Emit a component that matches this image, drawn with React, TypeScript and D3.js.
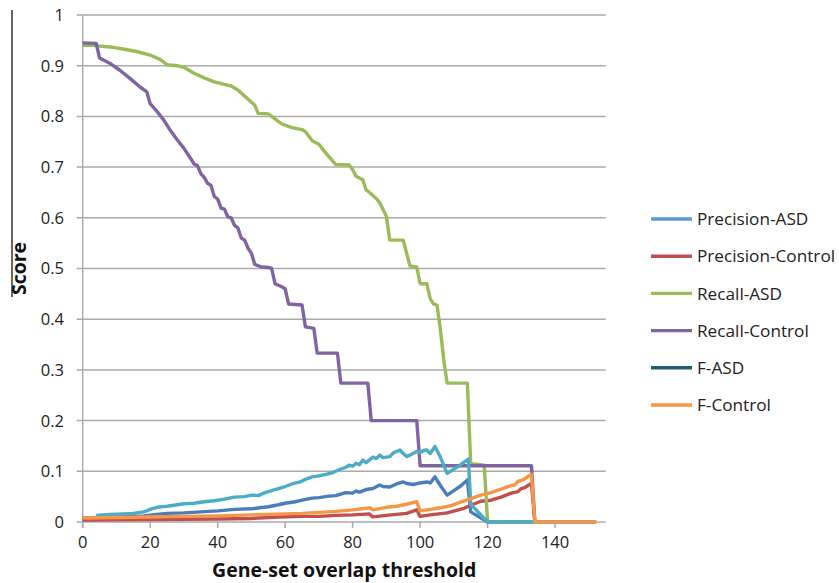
import React from 'react';
import * as d3 from 'd3';

type P = [number, number];

const seriesNames = ['Precision-ASD', 'Precision-Control', 'Recall-ASD', 'Recall-Control', 'F-ASD', 'F-Control'];

const precisionASD: P[] = [
  [0, 0.008], [10, 0.010], [18, 0.012], [22, 0.015], [25, 0.017], [30, 0.018], [35, 0.020], [40, 0.022],
  [45, 0.025], [50, 0.026], [52.5, 0.028], [55, 0.030], [58, 0.034], [60, 0.037], [63, 0.040], [65, 0.043],
  [68, 0.047], [70, 0.048], [73, 0.051], [75, 0.052], [78, 0.058], [80, 0.057], [81, 0.061], [82, 0.059],
  [84, 0.064], [86, 0.066], [88, 0.073], [89, 0.070], [91, 0.069], [93, 0.075], [95, 0.079], [96, 0.076],
  [98, 0.074], [100, 0.077], [102, 0.079], [103, 0.077], [104.4, 0.089], [106, 0.072], [108, 0.053],
  [110, 0.062], [112, 0.071], [114, 0.083], [115, 0.020], [120, 0], [152, 0],
];

const precisionControl: P[] = [
  [0, 0.004], [20, 0.005], [40, 0.006], [50, 0.007], [58, 0.010], [65, 0.011], [70, 0.011], [75, 0.013],
  [80, 0.014], [85, 0.016], [86, 0.010], [90, 0.013], [96, 0.017], [99, 0.024], [100, 0.011], [103, 0.014],
  [108, 0.018], [113, 0.027], [115, 0.033], [118, 0.041], [121, 0.043], [124, 0.049], [127, 0.057],
  [129, 0.060], [130, 0.066], [131, 0.068], [133, 0.076], [134, 0], [152, 0],
];

const recallASD: P[] = [
  [0, 0.940], [3, 0.940], [8, 0.937], [12, 0.933], [16, 0.928], [20, 0.921], [23, 0.912], [25, 0.902],
  [28, 0.900], [30, 0.897], [33, 0.885], [36, 0.876], [39, 0.868], [42, 0.863], [44, 0.860], [46, 0.852],
  [48, 0.840], [50, 0.828], [51, 0.822], [52, 0.806], [55, 0.805], [57, 0.795], [59, 0.785], [62, 0.778],
  [65, 0.774], [66, 0.770], [68, 0.752], [70, 0.745], [72, 0.728], [75, 0.705], [79, 0.704], [80, 0.695],
  [81, 0.682], [83, 0.675], [84, 0.655], [85, 0.650], [87, 0.638], [88, 0.630], [90, 0.603], [91, 0.556],
  [95, 0.556], [96, 0.530], [97, 0.505], [99, 0.503], [100, 0.470], [102, 0.470], [103, 0.440], [104, 0.430],
  [105, 0.428], [106, 0.380], [107, 0.320], [108, 0.274], [114, 0.274], [115, 0.115], [119, 0.112],
  [120, 0], [152, 0],
];

const recallControl: P[] = [
  [0, 0.945], [4, 0.944], [5, 0.915], [8, 0.905], [11, 0.891], [14, 0.875], [17, 0.858], [18.5, 0.851],
  [19, 0.848], [20, 0.825], [22, 0.810], [24, 0.793], [26, 0.772], [28, 0.754], [30, 0.737], [32, 0.717],
  [33, 0.706], [34, 0.703], [35, 0.687], [36, 0.680], [37, 0.668], [38, 0.664], [39, 0.642], [40, 0.637],
  [41, 0.619], [42, 0.617], [43, 0.602], [44, 0.600], [45, 0.585], [46, 0.580], [47, 0.560], [48, 0.556],
  [49, 0.540], [50, 0.530], [51, 0.508], [53, 0.503], [55, 0.502], [56, 0.500], [57, 0.470], [59, 0.464],
  [60, 0.460], [61, 0.430], [65, 0.428], [66, 0.385], [68.5, 0.382], [69.5, 0.333], [75.5, 0.333],
  [76.5, 0.274], [84.5, 0.274], [85.5, 0.200], [99, 0.200], [100, 0.111], [133, 0.111], [134, 0], [152, 0],
];

const fASD: P[] = [
  [4, 0.013], [8, 0.015], [12, 0.016], [15, 0.017], [18, 0.020], [19, 0.022], [20, 0.025], [22, 0.029],
  [25, 0.031], [28, 0.034], [30, 0.036], [33, 0.037], [36, 0.040], [39, 0.042], [42, 0.045], [45, 0.049],
  [48, 0.050], [50, 0.053], [52, 0.052], [54, 0.058], [57, 0.064], [60, 0.070], [62, 0.075], [64.4, 0.079],
  [66, 0.084], [68, 0.089], [70, 0.091], [72, 0.094], [74, 0.097], [76, 0.103], [78, 0.108], [79, 0.112],
  [80, 0.110], [81, 0.116], [82, 0.113], [83, 0.122], [84, 0.117], [86, 0.128], [87, 0.125], [88, 0.132],
  [89, 0.127], [91, 0.129], [92, 0.136], [94, 0.142], [95, 0.135], [96, 0.129], [97, 0.132], [99, 0.139],
  [100, 0.137], [101, 0.141], [102, 0.142], [103, 0.135], [104.4, 0.149], [106, 0.128], [108, 0.096],
  [110, 0.104], [112, 0.113], [114.3, 0.124], [115, 0.035], [120, 0], [152, 0],
];

const fControl: P[] = [
  [0, 0.008], [10, 0.009], [20, 0.010], [30, 0.011], [40, 0.012], [50, 0.014], [55, 0.015], [60, 0.016],
  [65, 0.017], [70, 0.019], [75, 0.021], [80, 0.024], [84, 0.027], [85, 0.028], [86, 0.024], [90, 0.029],
  [93, 0.031], [96, 0.035], [99, 0.040], [100, 0.022], [103, 0.025], [106, 0.028], [109, 0.032],
  [112, 0.039], [115, 0.046], [118, 0.053], [121, 0.058], [124, 0.065], [127, 0.072], [128, 0.073],
  [129, 0.080], [130, 0.082], [131, 0.085], [132, 0.090], [133, 0.094], [134, 0], [152.3, 0],
];

const seriesData: P[][] = [precisionASD, precisionControl, recallASD, recallControl, fASD, fControl];
const lineColors = ['#4a7ebb', '#c0504d', '#9bbb59', '#8064a2', '#4bacc6', '#f79646'];
const legendColors = ['#5b9bd5', '#c0504d', '#9bbb59', '#8064a2', '#215d6e', '#f79646'];

const yTicks = [0, 0.1, 0.2, 0.3, 0.4, 0.5, 0.6, 0.7, 0.8, 0.9, 1];
const yTickLabels = ['0', '0.1', '0.2', '0.3', '0.4', '0.5', '0.6', '0.7', '0.8', '0.9', '1'];
const xTicks = [0, 20, 40, 60, 80, 100, 120, 140];

const FONT = '"Open Sans", "DejaVu Sans", sans-serif';

export default function App() {
  const x = d3.scaleLinear().domain([0, 155]).range([82.7, 605.7]);
  const y = d3.scaleLinear().domain([0, 1]).range([522, 15]);
  const line = d3.line<P>().x(d => x(d[0])).y(d => y(d[1]));
  const [x0, x1] = x.range();

  return (
    <svg width={839} height={583} style={{ position: 'absolute', left: 0, top: 0, background: '#fff' }}
      fontFamily={FONT}>
      <rect x={0} y={0} width={839} height={583} fill="#fff" />
      {yTicks.map((t, i) => (
        <g key={'yg' + i}>
          <line x1={x0 - 6} x2={x1} y1={y(t)} y2={y(t)} stroke="#aaaaaa" strokeWidth={1.5} />
          <text x={64} y={y(t)} dy="0.36em" textAnchor="end" fontSize={16.5} fill="#222">{yTickLabels[i]}</text>
        </g>
      ))}
      <line x1={x0} x2={x0} y1={y(1)} y2={y(0) + 6} stroke="#aaaaaa" strokeWidth={1.5} />
      {xTicks.map((t, i) => (
        <g key={'xt' + i}>
          <line x1={x(t)} x2={x(t)} y1={y(0)} y2={y(0) + 6} stroke="#aaaaaa" strokeWidth={1.5} />
          <text x={x(t)} y={548} textAnchor="middle" fontSize={16.5} fill="#222">{t}</text>
        </g>
      ))}
      {seriesData.map((d, i) => (
        <path key={'s' + i} d={line(d) || ''} fill="none" stroke={lineColors[i]} strokeWidth={3.4}
          strokeLinejoin="round" />
      ))}
      <text x={(x0 + x1) / 2} y={577} textAnchor="middle" fontSize={19.5} fontWeight="bold" fill="#111">
        Gene-set overlap threshold
      </text>
      <line x1={12} x2={12} y1={10} y2={297} stroke="#000" strokeWidth={1.2} />
      <text transform={`translate(26,${y(0.5)}) rotate(-90)`} textAnchor="middle" fontSize={19.5}
        fontWeight="bold" fill="#111">Score</text>
      {seriesNames.map((n, i) => {
        const ly = 219 + 37.2 * i;
        return (
          <g key={'lg' + i}>
            <line x1={651} x2={692} y1={ly} y2={ly} stroke={legendColors[i]} strokeWidth={3.4} />
            <text x={697} y={ly} dy="0.36em" fontSize={17.2} fill="#222">{n}</text>
          </g>
        );
      })}
    </svg>
  );
}
